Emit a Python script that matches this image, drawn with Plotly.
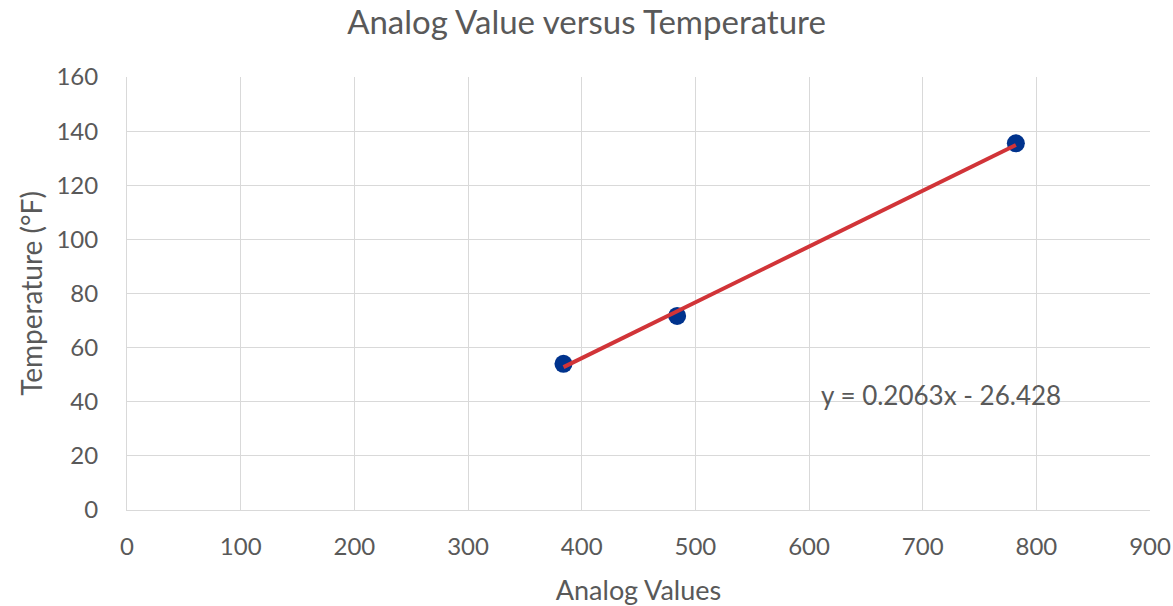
import plotly.graph_objects as go

# Data
analog_values = [384, 484, 782]
temperatures = [54, 71.7, 135.5]

# Trendline coefficients (as displayed)
slope = 0.2063
intercept = -26.428
trend_x = [min(analog_values), max(analog_values)]
trend_y = [slope * x + intercept for x in trend_x]

title_text = "Analog Value versus Temperature"
x_title = "Analog Values"
y_title = "Temperature (°F)"
eq_text = "y = 0.2063x - 26.428"

text_color = "#595959"
grid_color = "#D9D9D9"
font_family = "Lato, 'Open Sans', sans-serif"

fig = go.Figure()
fig.add_trace(go.Scatter(
    x=analog_values, y=temperatures, mode="markers",
    marker=dict(size=18, color="#00338D"),
    showlegend=False, hoverinfo="x+y",
))
fig.add_trace(go.Scatter(
    x=trend_x, y=trend_y, mode="lines",
    line=dict(color="#D13438", width=4),
    showlegend=False, hoverinfo="skip",
))

fig.add_annotation(
    x=609, y=42.5, xref="x", yref="y", text=eq_text, showarrow=False,
    xanchor="left", yanchor="middle",
    font=dict(size=26, color=text_color, family=font_family),
)

fig.update_layout(
    width=1173, height=606,
    margin=dict(l=127, r=23, t=77, b=96),
    paper_bgcolor="white", plot_bgcolor="white",
    font=dict(family=font_family, color=text_color, size=24),
    title=dict(text=title_text, x=0.5, xanchor="center", y=0.963, yanchor="middle",
               font=dict(size=33, color=text_color, family=font_family)),
)
fig.update_xaxes(
    range=[0, 900], dtick=100, tick0=0,
    showgrid=True, gridcolor=grid_color, gridwidth=1,
    zeroline=False, showline=True, linecolor=grid_color, linewidth=1,
    ticks="", ticklabelstandoff=15, automargin=False,
    tickfont=dict(size=24, color=text_color),
    title=dict(text=x_title, font=dict(size=27, color=text_color), standoff=22),
)
fig.update_yaxes(
    range=[0, 160], dtick=20, tick0=0,
    showgrid=True, gridcolor=grid_color, gridwidth=1,
    zeroline=False, showline=True, linecolor=grid_color, linewidth=1,
    ticks="", ticklabelstandoff=23, automargin=False,
    tickfont=dict(size=24, color=text_color),
    title=dict(text=y_title, font=dict(size=28, color=text_color), standoff=5),
)

fig.write_html("out.html")
